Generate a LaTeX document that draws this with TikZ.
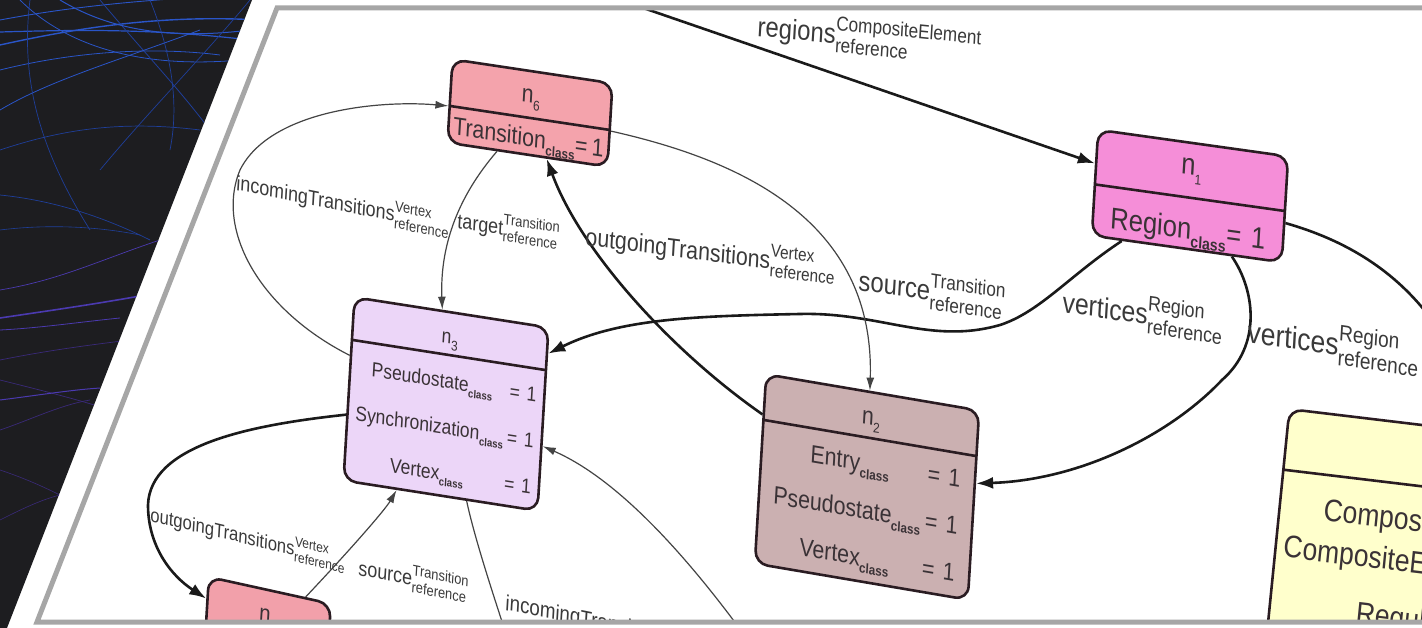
\documentclass[tikz,border=0pt]{standalone}
\usepackage{fontspec}
\setmainfont{Liberation Sans}[FakeStretch=0.85]
\usetikzlibrary{arrows.meta,shapes.multipart}
\definecolor{darkbg}{HTML}{1D1D20}
\definecolor{blu1}{HTML}{2A55C8}
\definecolor{blu2}{HTML}{1F3F9A}
\definecolor{pur1}{HTML}{4B3AB0}
\definecolor{pur2}{HTML}{3A2A7A}
\definecolor{panelgray}{HTML}{A6A6A6}
\definecolor{bordc}{HTML}{2A1C22}
\definecolor{txtc}{HTML}{3A3236}
\definecolor{labc}{HTML}{3A3A3A}
\definecolor{edgec}{HTML}{1A1A1A}
\definecolor{thinc}{HTML}{444444}
\definecolor{c6}{HTML}{F4A3AC}
\definecolor{c1}{HTML}{F58ED8}
\definecolor{c3}{HTML}{ECD6F8}
\definecolor{c2}{HTML}{CBB0B1}
\definecolor{c4}{HTML}{F2A0AA}
\definecolor{c5}{HTML}{FFFFCC}
\newsavebox\supbox
\newsavebox\subbox
\makeatletter
\newcommand\cls{\begingroup\edef\clsz{\fpeval{0.55*\f@size}}\raisebox{-0.28em}{\fontsize{\clsz}{\clsz}\selectfont\bfseries class}\endgroup}
\newcommand\lab[3]{#1\begingroup\edef\labsz{\fpeval{0.72*\f@size}}%
  \fontsize{\labsz}{\labsz}\selectfont
  \sbox\supbox{#2}\sbox\subbox{#3}%
  \rlap{\raisebox{0.68em}{\usebox\supbox}}\rlap{\raisebox{-0.42em}{\usebox\subbox}}%
  \ifdim\wd\supbox>\wd\subbox\hspace*{\wd\supbox}\else\hspace*{\wd\subbox}\fi\endgroup}
\makeatother
\newcommand\nn[1]{n\raisebox{-0.3em}{\fontsize{14}{14}\selectfont #1}}
\newcommand\rs[2]{\rule[-#2pt]{0pt}{#1pt}}
\begin{document}
\begin{tikzpicture}[x=1pt,y=-1pt,
  persp/.style={cm={1,-#1,0.06,1,(0,0)}},
  umlnode/.style={rectangle split, rectangle split parts=2, draw=bordc, line width=2.6pt,
    rounded corners=13pt, inner xsep=4pt, inner ysep=0pt, text width=#1, align=center,
    text=txtc, transform shape},
  lbl/.style={inner sep=0pt, anchor=base west, text=labc, transform shape},
  thickedge/.style={draw=edgec, line width=2.6pt, -{Latex[length=17pt,width=12pt]}},
  thinedge/.style={draw=thinc, line width=1.2pt, -{Latex[length=13pt,width=8pt]}},
  plainthick/.style={draw=edgec, line width=2.6pt},
  plainthin/.style={draw=thinc, line width=1.2pt},
  bl/.style={line width=#1}
]
\useasboundingbox (0,0) rectangle (1422,628);
\fill[white] (0,0) rectangle (1422,628);
% dark background with lines
\fill[darkbg] (0,0) -- (252,0) -- (7,628) -- (0,628) -- cycle;
\begin{scope}
\clip (0,0) -- (252,0) -- (7,628) -- (0,628) -- cycle;
\draw[blu1,bl=0.9pt] (0,20) .. controls (80,5) and (150,0) .. (230,-5);
\draw[blu1,bl=1.4pt] (0,45) .. controls (90,25) and (170,15) .. (260,20);
\draw[blu1,bl=0.8pt] (20,0) .. controls (60,40) and (130,70) .. (240,60);
\draw[blu1,bl=0.8pt] (0,70) .. controls (60,55) and (140,45) .. (220,55);
\draw[blu1,bl=1.2pt] (0,32) .. controls (70,30) and (150,28) .. (250,40);
\draw[blu2,bl=0.8pt] (100,0) .. controls (150,60) and (200,110) .. (230,160);
\draw[blu1,bl=0.8pt] (0,110) .. controls (50,80) and (120,60) .. (200,30);
\draw[blu2,bl=0.7pt] (150,0) .. controls (170,50) and (180,100) .. (170,150);
\draw[blu2,bl=0.7pt] (0,150) .. controls (60,130) and (120,120) .. (200,130);
\draw[blu2,bl=0.7pt] (30,0) .. controls (20,80) and (40,150) .. (90,230);
\draw[blu1,bl=1pt] (60,0) .. controls (110,30) and (170,40) .. (250,30);
\draw[blu2,bl=0.7pt] (250,0) .. controls (200,60) and (150,110) .. (100,170);
\draw[blu2,bl=0.7pt] (0,195) .. controls (50,200) and (100,215) .. (150,240);
\draw[blu2,bl=0.6pt] (0,230) .. controls (40,225) and (90,225) .. (140,235);
\draw[pur1,bl=0.7pt] (0,290) .. controls (60,280) and (100,260) .. (160,240);
\draw[pur1,bl=1.6pt] (0,318) .. controls (40,312) and (90,305) .. (140,296);
\draw[pur1,bl=0.8pt] (0,330) .. controls (40,328) and (80,322) .. (120,318);
\draw[pur2,bl=0.7pt] (0,360) .. controls (50,350) and (90,345) .. (130,340);
\draw[pur2,bl=0.7pt] (0,380) .. controls (40,390) and (80,400) .. (110,410);
\draw[pur1,bl=1pt] (0,400) .. controls (40,395) and (70,390) .. (100,388);
\draw[pur2,bl=0.7pt] (0,430) .. controls (30,420) and (60,405) .. (90,400);
\draw[pur2,bl=0.6pt] (0,470) .. controls (30,480) and (50,490) .. (70,500);
\draw[pur2,bl=0.6pt] (0,520) .. controls (20,510) and (40,500) .. (60,495);
\end{scope}
% diagram
\begin{scope}
\clip (277,8) -- (1422,8) -- (1422,622) -- (37,622) -- cycle;
\begin{scope}[shift={(530,113)},persp=0.15]
\node[umlnode=152pt, fill=c6, font=\fontsize{25}{27}\selectfont] (n6) at (0,0)
  {\rs{44}{14}\nn{6}\nodepart{two}\mbox{\rs{33}{6}Transition\cls=\,1}};
\end{scope}
\begin{scope}[shift={(1190,196)},persp=0.14]
\node[umlnode=182pt, fill=c1, font=\fontsize{30}{32}\selectfont] (n1) at (0,0)
  {\rs{52}{21}\nn{1}\nodepart{two}\mbox{\rs{48}{8}Region\cls= 1}};
\end{scope}
\begin{scope}[shift={(446,404)},persp=0.156]
\node[umlnode=186pt, fill=c3, font=\fontsize{20.5}{22}\selectfont] (n3) at (0,0)
  {\rs{40}{10}\nn{3}\nodepart{two}\begin{tabular}{@{}c@{\,}l@{}}
  \rs{46}{14}Pseudostate\cls & = 1\\ \rs{46}{14}Synchronization\cls & = 1\\ \rs{46}{14}Vertex\cls & = 1\end{tabular}};
\end{scope}
\begin{scope}[shift={(867,487)},persp=0.17]
\node[umlnode=205pt, fill=c2, font=\fontsize{25}{27}\selectfont] (n2) at (0,0)
  {\rs{43}{12}\nn{2}\nodepart{two}\begin{tabular}{@{}c@{\,}l@{}}
  \rs{47}{14}Entry\cls & = 1\\ \rs{47}{14}Pseudostate\cls & = 1\\ \rs{47}{14}Vertex\cls & = 1\end{tabular}};
\end{scope}
\begin{scope}[shift={(267,638)},persp=0.22]
\node[umlnode=114pt, fill=c4, font=\fontsize{24}{26}\selectfont] (n4) at (0,0)
  {\rs{45}{14}\nn{4}\nodepart{two}\rs{45}{10}};
\end{scope}
\begin{scope}[shift={(1443,543)},cm={1,-0.12,0.1,1,(0,0)}]
\node[umlnode=322pt, fill=c5, align=left, font=\fontsize{31}{33}\selectfont] (n5) at (0,0)
  {\rs{58}{20}\nodepart{two}\begin{tabular}{@{}l@{}}
  \rs{56}{12}\hspace*{40pt}Composite\\ \rs{41}{12}\hspace*{4pt}CompositeElement\\ \rs{68}{23}\hspace*{82pt}RegularState\end{tabular}};
\end{scope}
% coordinates for free ends
\coordinate (rtop) at (620,0);
\coordinate (rr) at (1432,320);
\coordinate (bot1) at (508,640);
\coordinate (bot2) at (748,640);
% edges
\draw[thickedge] (rtop) -- (n1);
\draw[thickedge] (n1) .. controls (1070,275) and (1040,312) .. (1000,325)
   .. controls (930,345) and (880,312) .. (800,314)
   .. controls (700,316) and (620,318) .. (n3);
\draw[thickedge] (n1) .. controls (1255,290) and (1262,345) .. (1222,380)
   .. controls (1170,435) and (1080,480) .. (n2);
\draw[plainthick] (n1) .. controls (1345,240) and (1395,270) .. (rr);
\draw[thinedge] (n6) .. controls (455,200) and (440,250) .. (n3);
\draw[thinedge] (n3) .. controls (260,310) and (215,230) .. (240,170)
   .. controls (270,110) and (380,100) .. (n6);
\draw[thickedge] (n2) .. controls (670,350) and (580,250) .. (n6);
\draw[thinedge] (n6) .. controls (740,160) and (875,220) .. (n2);
\draw[thickedge] (n3) .. controls (250,425) and (150,445) .. (148,505)
   .. controls (148,545) and (170,575) .. (n4);
\draw[thinedge] (n4) .. controls (350,550) and (385,510) .. (n3);
\draw[plainthin] (n3) .. controls (475,540) and (495,600) .. (bot1);
\draw[thinedge] (bot2) .. controls (690,560) and (620,480) .. (n3);
% labels
\begin{scope}[shift={(757,36)},persp=0.1]
\node[lbl,font=\fontsize{28}{30}\selectfont] (Lreg) at (0,0) {\lab{regions}{CompositeElement}{reference}};
\end{scope}
\begin{scope}[shift={(236,190)},persp=0.2]
\node[lbl,font=\fontsize{21}{23}\selectfont] (Linc1) at (0,0) {\lab{incomingTransitions}{Vertex}{reference}};
\end{scope}
\begin{scope}[shift={(457,228)},persp=0.15]
\node[lbl,font=\fontsize{21}{23}\selectfont] (Ltgt) at (0,0) {\lab{target}{Transition}{reference}};
\end{scope}
\begin{scope}[shift={(585,245)},persp=0.13]
\node[lbl,font=\fontsize{25}{27}\selectfont] (Lout1) at (0,0) {\lab{outgoingTransitions}{Vertex}{reference}};
\end{scope}
\begin{scope}[shift={(858,290)},persp=0.15]
\node[lbl,font=\fontsize{28}{30}\selectfont] (Lsrc1) at (0,0) {\lab{source}{Transition}{reference}};
\end{scope}
\begin{scope}[shift={(1062,312)},persp=0.15]
\node[lbl,font=\fontsize{29}{31}\selectfont] (Lver1) at (0,0) {\lab{vertices}{Region}{reference}};
\end{scope}
\begin{scope}[shift={(1247,342)},persp=0.15]
\node[lbl,font=\fontsize{31}{33}\selectfont] (Lver2) at (0,0) {\lab{vertices}{Region}{reference}};
\end{scope}
\begin{scope}[shift={(150,521)},persp=0.24]
\node[lbl,font=\fontsize{19.5}{21}\selectfont] (Lout2) at (0,0) {\lab{outgoingTransitions}{Vertex}{reference}};
\end{scope}
\begin{scope}[shift={(358,575)},persp=0.2]
\node[lbl,font=\fontsize{21}{23}\selectfont] (Lsrc2) at (0,0) {\lab{source}{Transition}{reference}};
\end{scope}
\begin{scope}[shift={(505,610)},persp=0.2]
\node[lbl,font=\fontsize{22}{24}\selectfont] (Linc2) at (0,0) {\lab{incomingTransitions}{Vertex}{reference}};
\end{scope}
\end{scope}
% panel border
\draw[panelgray, line width=5pt, line join=miter] (1440,8) -- (277,8) -- (37,622) -- (1440,622);
\end{tikzpicture}
\end{document}
